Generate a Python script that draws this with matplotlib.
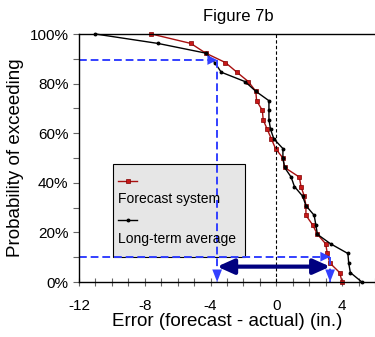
import matplotlib
matplotlib.use("Agg")
import matplotlib.pyplot as plt
from matplotlib.patches import Rectangle
from matplotlib.ticker import MultipleLocator, FuncFormatter

plt.rcParams['font.family'] = ['Liberation Sans', 'DejaVu Sans']
plt.rcParams['axes.unicode_minus'] = False

# Данные (ошибка прогноза, дюймы; вероятность превышения, %)
prob = [100, 96.2, 92.3, 88.5, 84.6, 80.8, 76.9, 73.1, 69.2, 65.4, 61.5, 57.7, 53.8,
        50.0, 46.2, 42.3, 38.5, 34.6, 30.8, 26.9, 23.1, 19.2, 15.4, 11.5, 7.7, 3.8, 0]
forecast_err = [-7.6, -5.2, -4.3, -3.1, -2.4, -1.7, -1.25, -1.2, -0.85, -0.8, -0.55, -0.3, -0.05,
                0.4, 0.5, 1.4, 1.5, 1.7, 1.8, 1.8, 2.2, 2.5, 3.0, 3.1, 3.25, 3.85, 4.0]
average_err = [-11.0, -7.2, -4.3, -3.75, -3.35, -1.9, -1.25, -0.45, -0.45, -0.45, -0.35, -0.15, 0.4,
               0.4, 0.5, 0.9, 1.1, 1.6, 1.8, 2.3, 2.4, 2.5, 3.3, 4.35, 4.4, 4.5, 5.2]

# уровни 90% и 10% и соответствующие ошибки
p_high, p_low = 89.5, 10.2
err_low, err_high = -3.6, 3.27
range_y = 6.2

red = '#a81010'
blue = '#3340ff'
navy = '#000080'

fig = plt.figure(figsize=(3.75, 3.37), dpi=100)
ax = fig.add_axes([0.2107, 0.1632, 0.7893, 0.7359])

ax.plot(forecast_err, prob, color=red, lw=1, marker='s', markersize=3.5,
        markerfacecolor='#c81818', markeredgecolor='#800000', markeredgewidth=0.5, clip_on=False)
ax.plot(average_err, prob, color='black', lw=1, marker='o', markersize=1.8, clip_on=False)

ax.axvline(0, color='black', lw=0.8, dashes=(3, 2))

# синие пунктирные линии со стрелками
for e, p in [(err_low, p_high), (err_high, p_low)]:
    ax.plot([-12, e], [p, p], color=blue, lw=1.4, dashes=(4, 2), clip_on=False)
    ax.plot([e, e], [p, 0], color=blue, lw=1.4, dashes=(4, 2), clip_on=False)
    ax.annotate('', xy=(e, p), xytext=(e - 0.8, p),
                arrowprops=dict(arrowstyle='-|>,head_length=0.7,head_width=0.35', color=blue,
                                lw=0, shrinkA=0, shrinkB=0))
    ax.annotate('', xy=(e, 0), xytext=(e, 4),
                arrowprops=dict(arrowstyle='-|>,head_length=0.9,head_width=0.35', color=blue,
                                lw=0, shrinkA=0, shrinkB=0))

ax.annotate('', xy=(err_low, range_y), xytext=(err_high, range_y),
            arrowprops=dict(arrowstyle='<|-|>,head_length=1.0,head_width=0.45', color=navy,
                            lw=3, shrinkA=0, shrinkB=0, mutation_scale=10))

# легенда
ax.add_patch(Rectangle((0.115, 0.101), 0.446, 0.375, transform=ax.transAxes,
                       facecolor='#e6e6e6', edgecolor='black', lw=0.8, zorder=1))
ax.plot([0.132, 0.196], [0.408, 0.408], transform=ax.transAxes, color=red, lw=1)
ax.plot([0.164], [0.408], transform=ax.transAxes, marker='s', markersize=3.5,
        markerfacecolor='#c81818', markeredgecolor='#800000', markeredgewidth=0.5)
ax.text(0.132, 0.335, 'Forecast system', transform=ax.transAxes, fontsize=10, va='center')
ax.plot([0.132, 0.196], [0.250, 0.250], transform=ax.transAxes, color='black', lw=1)
ax.plot([0.164], [0.250], transform=ax.transAxes, marker='o', markersize=1.8, color='black')
ax.text(0.132, 0.173, 'Long-term average', transform=ax.transAxes, fontsize=10, va='center')

ax.set_xlim(-12, 6)
ax.set_ylim(0, 100)
ax.xaxis.set_major_locator(MultipleLocator(4))
ax.xaxis.set_minor_locator(MultipleLocator(1))
ax.yaxis.set_major_locator(MultipleLocator(20))
ax.yaxis.set_minor_locator(MultipleLocator(10))
ax.yaxis.set_major_formatter(FuncFormatter(lambda v, pos: f'{v:.0f}%'))
ax.tick_params(which='both', color='#666666', width=0.8, labelsize=11)
ax.tick_params(axis='x', which='both', direction='inout', length=6, pad=9)
ax.tick_params(axis='y', which='both', direction='out', length=4.5, pad=3)
ax.spines['right'].set_visible(False)
for s in ['left', 'bottom', 'top']:
    ax.spines[s].set_linewidth(1)

ax.set_xlabel('Error (forecast - actual) (in.)', fontsize=13.5, labelpad=0)
ax.set_ylabel('Probability of exceeding', fontsize=13.5, labelpad=4)
fig.text(238 / 375, 1 - 17 / 337, 'Figure 7b', fontsize=12, ha='center', va='center')

fig.savefig('out.png', dpi=100)
